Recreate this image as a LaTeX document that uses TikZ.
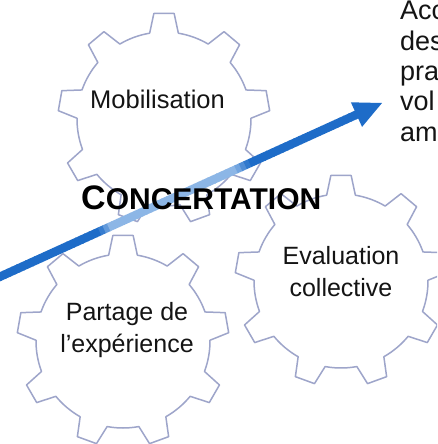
\documentclass[tikz,border=0pt]{standalone}
\usepackage{fontspec}
\setmainfont{Liberation Sans}
\usetikzlibrary{calc}
\definecolor{gearcol}{RGB}{158,165,202}
\definecolor{arrowdark}{RGB}{30,108,200}
\definecolor{arrowlight}{RGB}{140,182,230}
\definecolor{inkcol}{RGB}{20,20,20}
\newcommand\centredlines[2]{\vtop{\hbox to 0pt{\hss#1\hss}\hbox to 0pt{\hss#2\hss}}}
\begin{document}
\begin{tikzpicture}[x=1pt,y=-1pt,
  gearshape/.style={fill=white, draw=gearcol, line width=1.5pt, line join=round},
  gtext/.style={font=\fontsize{25}{32}\selectfont, inner sep=0pt, text=inkcol},
  gearpic/.pic={
    \path[gearshape] (260.5:87)
      \foreach \k in {0,...,8}{
        -- ({270+40*\k-9.5}:87) -- ({270+40*\k-5.5}:106) -- ({270+40*\k+5.5}:106) -- ({270+40*\k+9.5}:87)
        arc[start angle={270+40*\k+9.5}, end angle={270+40*\k+30.5}, radius=87]
      } -- cycle;
  }
]
\useasboundingbox (0,0) rectangle (437,444);
\clip (0,0) rectangle (437,444);
\fill[white] (0,0) rectangle (437,444);

% gears
\pic (gearmob) at (164,119) {gearpic};
\pic (gearpar) at (123,341) {gearpic};
\pic (gearevl) at (341,281) {gearpic};

% arrow
\coordinate (arrowstart) at (-5,279);
\coordinate (arrowtip) at (382,103);
\foreach \i in {0,...,79} {
  \pgfmathsetmacro\tA{\i/80*0.94}
  \pgfmathsetmacro\tB{(\i+1)/80*0.94+0.002}
  \pgfmathsetmacro\tM{(\tA+\tB)/2}
  \pgfmathtruncatemacro\pct{100*max(0,min(1,min((\tM-0.27)/0.03,(0.66-\tM)/0.04)))}
  \draw[line width=8.5pt, draw=arrowlight!\pct!arrowdark]
    ($(arrowstart)!\tA!(arrowtip)$) -- ($(arrowstart)!\tB!(arrowtip)$);
}
\coordinate (headbase) at ($(arrowstart)!0.934!(arrowtip)$);
\fill[arrowdark] (arrowtip) -- ($(headbase)!13.5pt!90:(arrowtip)$) -- ($(headbase)!13.5pt!-90:(arrowtip)$) -- cycle;

% texts
\node[gtext, font=\fontsize{25.5}{32}\selectfont, anchor=base] (mob) at (157.5,108) {Mobilisation};
\node[gtext, anchor=base] (par) at (127,320) {\centredlines{Partage de}{l’expérience}};
\node[gtext, anchor=base] (evl) at (341,264) {\centredlines{Evaluation}{collective}};
\node[gtext, font=\fontsize{27}{30.3}\selectfont, anchor=base west] (acc) at (400,20)
  {\vtop{\baselineskip=30.3pt\hbox{Acc}\hbox{des}\hbox{pra}\hbox{vol}\hbox{am}}};
\node[inner sep=0pt, anchor=base west, text=black, font=\bfseries] (conc) at (81,209)
  {\fontsize{34}{34}\selectfont C\fontsize{30}{30}\selectfont ONCERTATION};
\end{tikzpicture}
\end{document}
